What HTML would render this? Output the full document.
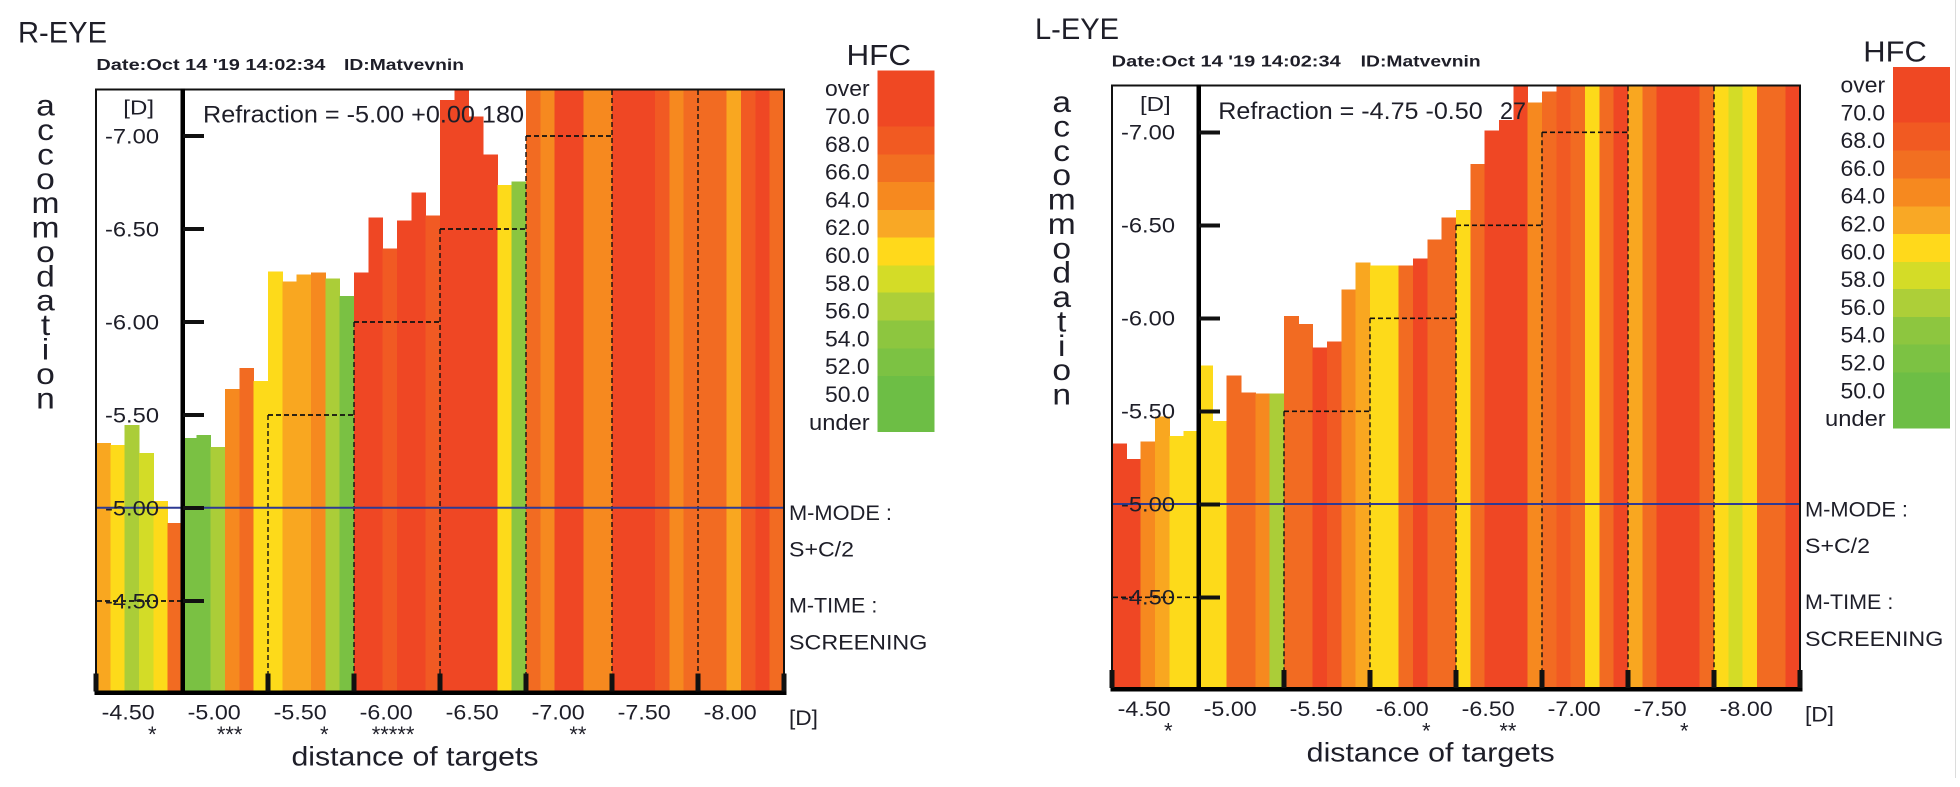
<!DOCTYPE html>
<html><head><meta charset="utf-8"><style>
html,body{margin:0;padding:0;background:#fff;}
svg{display:block;}
text{font-family:"Liberation Sans",Arial,sans-serif;fill:#1e1e28;}
</style></head><body>
<svg width="1960" height="787" viewBox="0 0 1960 787" xmlns="http://www.w3.org/2000/svg">
<rect x="0" y="0" width="1960" height="787" fill="#fff"/>
<rect x="1955" y="0" width="1" height="778" fill="#dcdcdc"/>

<!-- ================= LEFT CHART ================= -->
<g>
<g shape-rendering="crispEdges">
<rect x="96" y="443" width="14.8" height="248" fill="#F9A720"/>
<rect x="110.33" y="445" width="14.8" height="246" fill="#FDDA1A"/>
<rect x="124.67" y="425" width="14.8" height="266" fill="#ABCD38"/>
<rect x="139" y="453" width="14.8" height="238" fill="#D3DC27"/>
<rect x="153.33" y="501" width="14.8" height="190" fill="#FDDA1A"/>
<rect x="167.67" y="523" width="14.8" height="168" fill="#F26B22"/>

<rect x="182" y="438" width="14.8" height="253" fill="#7AC143"/>
<rect x="196.33" y="435" width="14.8" height="256" fill="#7AC143"/>
<rect x="210.67" y="447" width="14.8" height="244" fill="#ABCD38"/>
<rect x="225" y="389" width="14.8" height="302" fill="#F6891F"/>
<rect x="239.33" y="368" width="14.8" height="323" fill="#F26B22"/>
<rect x="253.67" y="381" width="14.8" height="310" fill="#FDDA1A"/>

<rect x="268" y="271.7" width="14.8" height="419.3" fill="#FDDA1A"/>
<rect x="282.33" y="281.7" width="14.8" height="409.3" fill="#F9A720"/>
<rect x="296.67" y="274.3" width="14.8" height="416.7" fill="#F9A720"/>
<rect x="311" y="272.3" width="14.8" height="418.7" fill="#F6891F"/>
<rect x="325.33" y="278.7" width="14.8" height="412.3" fill="#ABCD38"/>
<rect x="339.67" y="296" width="14.8" height="395" fill="#7AC143"/>

<rect x="354" y="272.7" width="14.8" height="418.3" fill="#EF4724"/>
<rect x="368.33" y="217.7" width="14.8" height="473.3" fill="#EF4724"/>
<rect x="382.67" y="248.3" width="14.8" height="442.7" fill="#F15A23"/>
<rect x="397" y="220.7" width="14.8" height="470.3" fill="#EF4724"/>
<rect x="411.33" y="192.7" width="14.8" height="498.3" fill="#EF4724"/>
<rect x="425.67" y="215.7" width="14.8" height="475.3" fill="#F15A23"/>

<rect x="440" y="100" width="14.8" height="591" fill="#EF4724"/>
<rect x="454.33" y="89" width="14.8" height="602" fill="#EF4724"/>
<rect x="468.67" y="116.7" width="14.8" height="574.3" fill="#EF4724"/>
<rect x="483" y="154.3" width="14.8" height="536.7" fill="#EF4724"/>
<rect x="497.33" y="185" width="14.8" height="506" fill="#FDDA1A"/>
<rect x="511.67" y="181.7" width="14.8" height="509.3" fill="#8BC540"/>

<rect x="526" y="89" width="14.8" height="602" fill="#F26B22"/>
<rect x="540.33" y="89" width="14.8" height="602" fill="#F6891F"/>
<rect x="554.67" y="89" width="14.8" height="602" fill="#EF4724"/>
<rect x="569" y="89" width="14.8" height="602" fill="#EF4724"/>
<rect x="583.33" y="89" width="14.8" height="602" fill="#F6891F"/>
<rect x="597.67" y="89" width="14.8" height="602" fill="#F6891F"/>

<rect x="612" y="89" width="14.8" height="602" fill="#EF4724"/>
<rect x="626.33" y="89" width="14.8" height="602" fill="#EF4724"/>
<rect x="640.67" y="89" width="14.8" height="602" fill="#EF4724"/>
<rect x="655" y="89" width="14.8" height="602" fill="#F15A23"/>
<rect x="669.33" y="89" width="14.8" height="602" fill="#F6891F"/>
<rect x="683.67" y="89" width="14.8" height="602" fill="#F26B22"/>

<rect x="698" y="89" width="14.8" height="602" fill="#F26B22"/>
<rect x="712.33" y="89" width="14.8" height="602" fill="#F26B22"/>
<rect x="726.67" y="89" width="14.8" height="602" fill="#F9A720"/>
<rect x="741" y="89" width="14.8" height="602" fill="#F15A23"/>
<rect x="755.33" y="89" width="14.8" height="602" fill="#EF4724"/>
<rect x="769.67" y="89" width="14.3" height="602" fill="#F26B22"/>
</g>

<!-- dashed staircase -->
<g stroke="#111" stroke-width="1.7" stroke-dasharray="5,3" fill="none">
<line x1="97" y1="601" x2="182" y2="601"/>
<line x1="268" y1="415" x2="354" y2="415"/>
<line x1="354" y1="322" x2="440" y2="322"/>
<line x1="440" y1="229" x2="526" y2="229"/>
<line x1="526" y1="136" x2="612" y2="136"/>
</g>
<g stroke="#111" stroke-width="1.4" stroke-dasharray="5,3" fill="none">
<line x1="268" y1="415" x2="268" y2="691"/>
<line x1="354" y1="322" x2="354" y2="691"/>
<line x1="440" y1="229" x2="440" y2="691"/>
<line x1="526" y1="136" x2="526" y2="691"/>
<line x1="612" y1="90" x2="612" y2="691"/>
<line x1="698" y1="90" x2="698" y2="691"/>
</g>
<line x1="96" y1="507.7" x2="785" y2="507.7" stroke="#2E3A94" stroke-width="2"/>

<!-- box & axes -->
<g fill="#111" shape-rendering="crispEdges">
<rect x="95" y="88.3" width="690" height="2"/>
<rect x="95" y="88.3" width="2" height="605"/>
<rect x="783" y="88.3" width="2" height="605"/>
<rect x="180.6" y="88.3" width="4.6" height="605" fill="#000"/>
<rect x="94.5" y="690.5" width="692" height="4.5" fill="#000"/>
<rect x="93.7" y="673.5" width="4.6" height="18"/>
<rect x="265.7" y="673.5" width="4.6" height="18"/>
<rect x="351.7" y="673.5" width="4.6" height="18"/>
<rect x="437.7" y="673.5" width="4.6" height="18"/>
<rect x="523.7" y="673.5" width="4.6" height="18"/>
<rect x="609.7" y="673.5" width="4.6" height="18"/>
<rect x="695.7" y="673.5" width="4.6" height="18"/>
<rect x="781.7" y="673.5" width="4.6" height="18"/>
<rect x="183" y="134" width="21" height="4"/>
<rect x="183" y="227" width="21" height="4"/>
<rect x="183" y="320" width="21" height="4"/>
<rect x="183" y="413" width="21" height="4"/>
<rect x="183" y="506" width="21" height="4"/>
<rect x="183" y="599" width="21" height="4"/>
</g>

<!-- legend -->
<g shape-rendering="crispEdges">
<rect x="877.5" y="70.7" width="57" height="55.8" fill="#EF4823"/>
<rect x="877.5" y="126.3" width="57" height="28.2" fill="#F15A22"/>
<rect x="877.5" y="154.3" width="57" height="28" fill="#F26F21"/>
<rect x="877.5" y="182" width="57" height="28.2" fill="#F6891F"/>
<rect x="877.5" y="210" width="57" height="28" fill="#F9A825"/>
<rect x="877.5" y="237.7" width="57" height="28.2" fill="#FFD91B"/>
<rect x="877.5" y="265.7" width="57" height="27.2" fill="#D4DC27"/>
<rect x="877.5" y="292.7" width="57" height="28.2" fill="#ADCF38"/>
<rect x="877.5" y="320.7" width="57" height="27.8" fill="#8DC63F"/>
<rect x="877.5" y="348.3" width="57" height="27.9" fill="#7CC243"/>
<rect x="877.5" y="376" width="57" height="56" fill="#6DBE45"/>
</g>

<!-- texts -->
<text x="18" y="42.7" font-size="29.5" textLength="89" lengthAdjust="spacingAndGlyphs">R-EYE</text>
<text x="96.4" y="70" font-size="16" font-weight="bold" textLength="229" lengthAdjust="spacingAndGlyphs">Date:Oct 14 '19 14:02:34</text>
<text x="344" y="70" font-size="16" font-weight="bold" textLength="120" lengthAdjust="spacingAndGlyphs">ID:Matvevnin</text>
<g transform="translate(45.5 0) scale(1.12 1)"><text text-anchor="middle" font-size="30"><tspan x="0" y="115.7">a</tspan><tspan x="0" y="140.1">c</tspan><tspan x="0" y="164.5">c</tspan><tspan x="0" y="188.8">o</tspan><tspan x="0" y="213.2">m</tspan><tspan x="0" y="237.6">m</tspan><tspan x="0" y="262">o</tspan><tspan x="0" y="286.4">d</tspan><tspan x="0" y="310.7">a</tspan><tspan x="0" y="335.1">t</tspan><tspan x="0" y="359.5">i</tspan><tspan x="0" y="383.9">o</tspan><tspan x="0" y="408.3">n</tspan></text></g>
<text x="123.3" y="114.5" font-size="20" textLength="30.7" lengthAdjust="spacingAndGlyphs">[D]</text>
<g font-size="21">
<text x="105" y="143.3" textLength="54" lengthAdjust="spacingAndGlyphs">-7.00</text>
<text x="105" y="236.3" textLength="54" lengthAdjust="spacingAndGlyphs">-6.50</text>
<text x="105" y="329.3" textLength="54" lengthAdjust="spacingAndGlyphs">-6.00</text>
<text x="105" y="422.3" textLength="54" lengthAdjust="spacingAndGlyphs">-5.50</text>
<text x="105" y="515.3" textLength="54" lengthAdjust="spacingAndGlyphs">-5.00</text>
<text x="105" y="608.3" textLength="54" lengthAdjust="spacingAndGlyphs">-4.50</text>
</g>
<text x="203" y="122.5" font-size="24.5" textLength="321" lengthAdjust="spacingAndGlyphs">Refraction = -5.00 +0.00 180</text>
<g font-size="21">
<text x="101.7" y="719.5" textLength="53" lengthAdjust="spacingAndGlyphs">-4.50</text>
<text x="187.7" y="719.5" textLength="53" lengthAdjust="spacingAndGlyphs">-5.00</text>
<text x="273.7" y="719.5" textLength="53" lengthAdjust="spacingAndGlyphs">-5.50</text>
<text x="359.7" y="719.5" textLength="53" lengthAdjust="spacingAndGlyphs">-6.00</text>
<text x="445.7" y="719.5" textLength="53" lengthAdjust="spacingAndGlyphs">-6.50</text>
<text x="531.7" y="719.5" textLength="53" lengthAdjust="spacingAndGlyphs">-7.00</text>
<text x="617.7" y="719.5" textLength="53" lengthAdjust="spacingAndGlyphs">-7.50</text>
<text x="703.7" y="719.5" textLength="53" lengthAdjust="spacingAndGlyphs">-8.00</text>
<text x="789" y="725" textLength="29" lengthAdjust="spacingAndGlyphs">[D]</text>
</g>
<g font-size="22" text-anchor="end" style="fill:#2b2b55">
<text x="156.5" y="742">*</text>
<text x="242.5" y="742">***</text>
<text x="328.5" y="742">*</text>
<text x="414.5" y="742">*****</text>
<text x="586.5" y="742">**</text>
</g>
<text x="291.5" y="765.5" font-size="26.5" textLength="247" lengthAdjust="spacingAndGlyphs">distance of targets</text>
<g font-size="21.5">
<text x="789" y="520" textLength="103" lengthAdjust="spacingAndGlyphs">M-MODE :</text>
<text x="789" y="556.7" textLength="65" lengthAdjust="spacingAndGlyphs">S+C/2</text>
<text x="789" y="612.7" textLength="88.3" lengthAdjust="spacingAndGlyphs">M-TIME :</text>
<text x="789" y="649.7" textLength="138.3" lengthAdjust="spacingAndGlyphs">SCREENING</text>
</g>
<text x="846.5" y="65" font-size="29" textLength="64.5" lengthAdjust="spacingAndGlyphs">HFC</text>
<g font-size="22.5">
<text x="825" y="96.2" textLength="44.6" lengthAdjust="spacingAndGlyphs">over</text>
<text x="825" y="124" textLength="44.6" lengthAdjust="spacingAndGlyphs">70.0</text>
<text x="825" y="151.8" textLength="44.6" lengthAdjust="spacingAndGlyphs">68.0</text>
<text x="825" y="179.6" textLength="44.6" lengthAdjust="spacingAndGlyphs">66.0</text>
<text x="825" y="207.4" textLength="44.6" lengthAdjust="spacingAndGlyphs">64.0</text>
<text x="825" y="235.2" textLength="44.6" lengthAdjust="spacingAndGlyphs">62.0</text>
<text x="825" y="263" textLength="44.6" lengthAdjust="spacingAndGlyphs">60.0</text>
<text x="825" y="290.8" textLength="44.6" lengthAdjust="spacingAndGlyphs">58.0</text>
<text x="825" y="318.6" textLength="44.6" lengthAdjust="spacingAndGlyphs">56.0</text>
<text x="825" y="346.4" textLength="44.6" lengthAdjust="spacingAndGlyphs">54.0</text>
<text x="825" y="374.2" textLength="44.6" lengthAdjust="spacingAndGlyphs">52.0</text>
<text x="825" y="402" textLength="44.6" lengthAdjust="spacingAndGlyphs">50.0</text>
<text x="809" y="429.8" textLength="60.7" lengthAdjust="spacingAndGlyphs">under</text>
</g>
</g>

<!-- ================= RIGHT CHART ================= -->
<g transform="translate(1016,-3.7)">
<g shape-rendering="crispEdges">
<rect x="96" y="447" width="14.8" height="244" fill="#EF4724"/>
<rect x="110.33" y="462.7" width="14.8" height="228.3" fill="#EF4724"/>
<rect x="124.67" y="445.4" width="14.8" height="245.6" fill="#F6891F"/>
<rect x="139" y="420.4" width="14.8" height="270.6" fill="#F9A720"/>
<rect x="153.33" y="439.7" width="14.8" height="251.3" fill="#FDDA1A"/>
<rect x="167.67" y="434.7" width="14.8" height="256.3" fill="#FDDA1A"/>

<rect x="182" y="369.4" width="14.8" height="321.6" fill="#FDDA1A"/>
<rect x="196.33" y="424.7" width="14.8" height="266.3" fill="#FDDA1A"/>
<rect x="210.67" y="379.4" width="14.8" height="311.6" fill="#F26B22"/>
<rect x="225" y="396" width="14.8" height="295" fill="#F26B22"/>
<rect x="239.33" y="397" width="14.8" height="294" fill="#F6891F"/>
<rect x="253.67" y="397" width="14.8" height="294" fill="#ABCD38"/>

<rect x="268" y="319.7" width="14.8" height="371.3" fill="#F26B22"/>
<rect x="282.33" y="327.7" width="14.8" height="363.3" fill="#F26B22"/>
<rect x="296.67" y="351" width="14.8" height="340" fill="#EF4724"/>
<rect x="311" y="345.4" width="14.8" height="345.6" fill="#F15A23"/>
<rect x="325.33" y="293" width="14.8" height="398" fill="#F6891F"/>
<rect x="339.67" y="266.4" width="14.8" height="424.6" fill="#F9A720"/>

<rect x="354" y="269.4" width="14.8" height="421.6" fill="#FDDA1A"/>
<rect x="368.33" y="269.4" width="14.8" height="421.6" fill="#FDDA1A"/>
<rect x="382.67" y="269.4" width="14.8" height="421.6" fill="#F26B22"/>
<rect x="397" y="262" width="14.8" height="429" fill="#EF4724"/>
<rect x="411.33" y="243" width="14.8" height="448" fill="#F26B22"/>
<rect x="425.67" y="221" width="14.8" height="470" fill="#F26B22"/>

<rect x="440" y="213.7" width="14.8" height="477.3" fill="#FDDA1A"/>
<rect x="454.33" y="167.7" width="14.8" height="523.3" fill="#F26B22"/>
<rect x="468.67" y="134.4" width="14.8" height="556.6" fill="#EF4724"/>
<rect x="483" y="123.7" width="14.8" height="567.3" fill="#EF4724"/>
<rect x="497.33" y="89" width="14.8" height="602" fill="#EF4724"/>
<rect x="511.67" y="106" width="14.8" height="585" fill="#F6891F"/>

<rect x="526" y="95.4" width="14.8" height="595.6" fill="#F26B22"/>
<rect x="540.33" y="89" width="14.8" height="602" fill="#F15A23"/>
<rect x="554.67" y="89" width="14.8" height="602" fill="#F26B22"/>
<rect x="569" y="89" width="14.8" height="602" fill="#FDDA1A"/>
<rect x="583.33" y="89" width="14.8" height="602" fill="#F26B22"/>
<rect x="597.67" y="89" width="14.8" height="602" fill="#EF4724"/>

<rect x="612" y="89" width="14.8" height="602" fill="#F9A720"/>
<rect x="626.33" y="89" width="14.8" height="602" fill="#F26B22"/>
<rect x="640.67" y="89" width="14.8" height="602" fill="#EF4724"/>
<rect x="655" y="89" width="14.8" height="602" fill="#EF4724"/>
<rect x="669.33" y="89" width="14.8" height="602" fill="#EF4724"/>
<rect x="683.67" y="89" width="14.8" height="602" fill="#F26B22"/>

<rect x="698" y="89" width="14.8" height="602" fill="#FDDA1A"/>
<rect x="712.33" y="89" width="14.8" height="602" fill="#D3DC27"/>
<rect x="726.67" y="89" width="14.8" height="602" fill="#FDDA1A"/>
<rect x="741" y="89" width="14.8" height="602" fill="#F26B22"/>
<rect x="755.33" y="89" width="14.8" height="602" fill="#F26B22"/>
<rect x="769.67" y="89" width="14.3" height="602" fill="#EF4724"/>
</g>

<g stroke="#111" stroke-width="1.7" stroke-dasharray="5,3" fill="none">
<line x1="97" y1="601" x2="182" y2="601"/>
<line x1="268" y1="415" x2="354" y2="415"/>
<line x1="354" y1="322" x2="440" y2="322"/>
<line x1="440" y1="229" x2="526" y2="229"/>
<line x1="526" y1="136" x2="612" y2="136"/>
</g>
<g stroke="#111" stroke-width="1.4" stroke-dasharray="5,3" fill="none">
<line x1="268" y1="415" x2="268" y2="691"/>
<line x1="354" y1="322" x2="354" y2="691"/>
<line x1="440" y1="229" x2="440" y2="691"/>
<line x1="526" y1="136" x2="526" y2="691"/>
<line x1="612" y1="90" x2="612" y2="691"/>
<line x1="698" y1="90" x2="698" y2="691"/>
</g>
<line x1="96" y1="507.7" x2="785" y2="507.7" stroke="#2E3A94" stroke-width="2"/>

<g fill="#111" shape-rendering="crispEdges">
<rect x="95" y="88.3" width="690" height="2"/>
<rect x="95" y="88.3" width="2" height="605"/>
<rect x="783" y="88.3" width="2" height="605"/>
<rect x="180.6" y="88.3" width="4.6" height="605" fill="#000"/>
<rect x="94.5" y="690.5" width="692" height="4.5" fill="#000"/>
<rect x="93.7" y="673.5" width="4.6" height="18"/>
<rect x="265.7" y="673.5" width="4.6" height="18"/>
<rect x="351.7" y="673.5" width="4.6" height="18"/>
<rect x="437.7" y="673.5" width="4.6" height="18"/>
<rect x="523.7" y="673.5" width="4.6" height="18"/>
<rect x="609.7" y="673.5" width="4.6" height="18"/>
<rect x="695.7" y="673.5" width="4.6" height="18"/>
<rect x="781.7" y="673.5" width="4.6" height="18"/>
<rect x="183" y="134" width="21" height="4"/>
<rect x="183" y="227" width="21" height="4"/>
<rect x="183" y="320" width="21" height="4"/>
<rect x="183" y="413" width="21" height="4"/>
<rect x="183" y="506" width="21" height="4"/>
<rect x="183" y="599" width="21" height="4"/>
</g>

<g shape-rendering="crispEdges">
<rect x="877" y="70.7" width="57" height="55.8" fill="#EF4823"/>
<rect x="877" y="126.3" width="57" height="28.2" fill="#F15A22"/>
<rect x="877" y="154.3" width="57" height="28" fill="#F26F21"/>
<rect x="877" y="182" width="57" height="28.2" fill="#F6891F"/>
<rect x="877" y="210" width="57" height="28" fill="#F9A825"/>
<rect x="877" y="237.7" width="57" height="28.2" fill="#FFD91B"/>
<rect x="877" y="265.7" width="57" height="27.2" fill="#D4DC27"/>
<rect x="877" y="292.7" width="57" height="28.2" fill="#ADCF38"/>
<rect x="877" y="320.7" width="57" height="27.8" fill="#8DC63F"/>
<rect x="877" y="348.3" width="57" height="27.9" fill="#7CC243"/>
<rect x="877" y="376" width="57" height="56" fill="#6DBE45"/>
</g>

<text x="19" y="42.7" font-size="29.5" textLength="84" lengthAdjust="spacingAndGlyphs">L-EYE</text>
<text x="95.7" y="70.2" font-size="16" font-weight="bold" textLength="229" lengthAdjust="spacingAndGlyphs">Date:Oct 14 '19 14:02:34</text>
<text x="344.7" y="70.2" font-size="16" font-weight="bold" textLength="120" lengthAdjust="spacingAndGlyphs">ID:Matvevnin</text>
<g transform="translate(45.7 0) scale(1.12 1)"><text text-anchor="middle" font-size="30"><tspan x="0" y="115.7">a</tspan><tspan x="0" y="140.1">c</tspan><tspan x="0" y="164.5">c</tspan><tspan x="0" y="188.8">o</tspan><tspan x="0" y="213.2">m</tspan><tspan x="0" y="237.6">m</tspan><tspan x="0" y="262">o</tspan><tspan x="0" y="286.4">d</tspan><tspan x="0" y="310.7">a</tspan><tspan x="0" y="335.1">t</tspan><tspan x="0" y="359.5">i</tspan><tspan x="0" y="383.9">o</tspan><tspan x="0" y="408.3">n</tspan></text></g>
<text x="124" y="114.5" font-size="20" textLength="30.7" lengthAdjust="spacingAndGlyphs">[D]</text>
<g font-size="21">
<text x="105" y="143.3" textLength="54" lengthAdjust="spacingAndGlyphs">-7.00</text>
<text x="105" y="236.3" textLength="54" lengthAdjust="spacingAndGlyphs">-6.50</text>
<text x="105" y="329.3" textLength="54" lengthAdjust="spacingAndGlyphs">-6.00</text>
<text x="105" y="422.3" textLength="54" lengthAdjust="spacingAndGlyphs">-5.50</text>
<text x="105" y="515.3" textLength="54" lengthAdjust="spacingAndGlyphs">-5.00</text>
<text x="105" y="608.3" textLength="54" lengthAdjust="spacingAndGlyphs">-4.50</text>
</g>
<text x="202.3" y="122.7" font-size="24.5" textLength="264.4" lengthAdjust="spacingAndGlyphs">Refraction = -4.75 -0.50</text>
<text x="484" y="122.7" font-size="24.5" textLength="26" lengthAdjust="spacingAndGlyphs">27</text>
<g font-size="21">
<text x="101.7" y="719.5" textLength="53" lengthAdjust="spacingAndGlyphs">-4.50</text>
<text x="187.7" y="719.5" textLength="53" lengthAdjust="spacingAndGlyphs">-5.00</text>
<text x="273.7" y="719.5" textLength="53" lengthAdjust="spacingAndGlyphs">-5.50</text>
<text x="359.7" y="719.5" textLength="53" lengthAdjust="spacingAndGlyphs">-6.00</text>
<text x="445.7" y="719.5" textLength="53" lengthAdjust="spacingAndGlyphs">-6.50</text>
<text x="531.7" y="719.5" textLength="53" lengthAdjust="spacingAndGlyphs">-7.00</text>
<text x="617.7" y="719.5" textLength="53" lengthAdjust="spacingAndGlyphs">-7.50</text>
<text x="703.7" y="719.5" textLength="53" lengthAdjust="spacingAndGlyphs">-8.00</text>
<text x="789" y="725" textLength="29" lengthAdjust="spacingAndGlyphs">[D]</text>
</g>
<g font-size="22" text-anchor="end" style="fill:#2b2b55">
<text x="156.5" y="742">*</text>
<text x="414.5" y="742">*</text>
<text x="500.5" y="742">**</text>
<text x="672.5" y="742">*</text>
</g>
<text x="290.7" y="765" font-size="26.5" textLength="248" lengthAdjust="spacingAndGlyphs">distance of targets</text>
<g font-size="21.5">
<text x="789" y="520" textLength="103" lengthAdjust="spacingAndGlyphs">M-MODE :</text>
<text x="789" y="556.7" textLength="65" lengthAdjust="spacingAndGlyphs">S+C/2</text>
<text x="789" y="612.7" textLength="88.3" lengthAdjust="spacingAndGlyphs">M-TIME :</text>
<text x="789" y="649.7" textLength="138.3" lengthAdjust="spacingAndGlyphs">SCREENING</text>
</g>
<text x="847.3" y="65" font-size="29" textLength="63.5" lengthAdjust="spacingAndGlyphs">HFC</text>
<g font-size="22.5">
<text x="824.5" y="96.2" textLength="44.6" lengthAdjust="spacingAndGlyphs">over</text>
<text x="824.5" y="124" textLength="44.6" lengthAdjust="spacingAndGlyphs">70.0</text>
<text x="824.5" y="151.8" textLength="44.6" lengthAdjust="spacingAndGlyphs">68.0</text>
<text x="824.5" y="179.6" textLength="44.6" lengthAdjust="spacingAndGlyphs">66.0</text>
<text x="824.5" y="207.4" textLength="44.6" lengthAdjust="spacingAndGlyphs">64.0</text>
<text x="824.5" y="235.2" textLength="44.6" lengthAdjust="spacingAndGlyphs">62.0</text>
<text x="824.5" y="263" textLength="44.6" lengthAdjust="spacingAndGlyphs">60.0</text>
<text x="824.5" y="290.8" textLength="44.6" lengthAdjust="spacingAndGlyphs">58.0</text>
<text x="824.5" y="318.6" textLength="44.6" lengthAdjust="spacingAndGlyphs">56.0</text>
<text x="824.5" y="346.4" textLength="44.6" lengthAdjust="spacingAndGlyphs">54.0</text>
<text x="824.5" y="374.2" textLength="44.6" lengthAdjust="spacingAndGlyphs">52.0</text>
<text x="824.5" y="402" textLength="44.6" lengthAdjust="spacingAndGlyphs">50.0</text>
<text x="809" y="429.8" textLength="60.7" lengthAdjust="spacingAndGlyphs">under</text>
</g>
</g>
</svg>
</body></html>
